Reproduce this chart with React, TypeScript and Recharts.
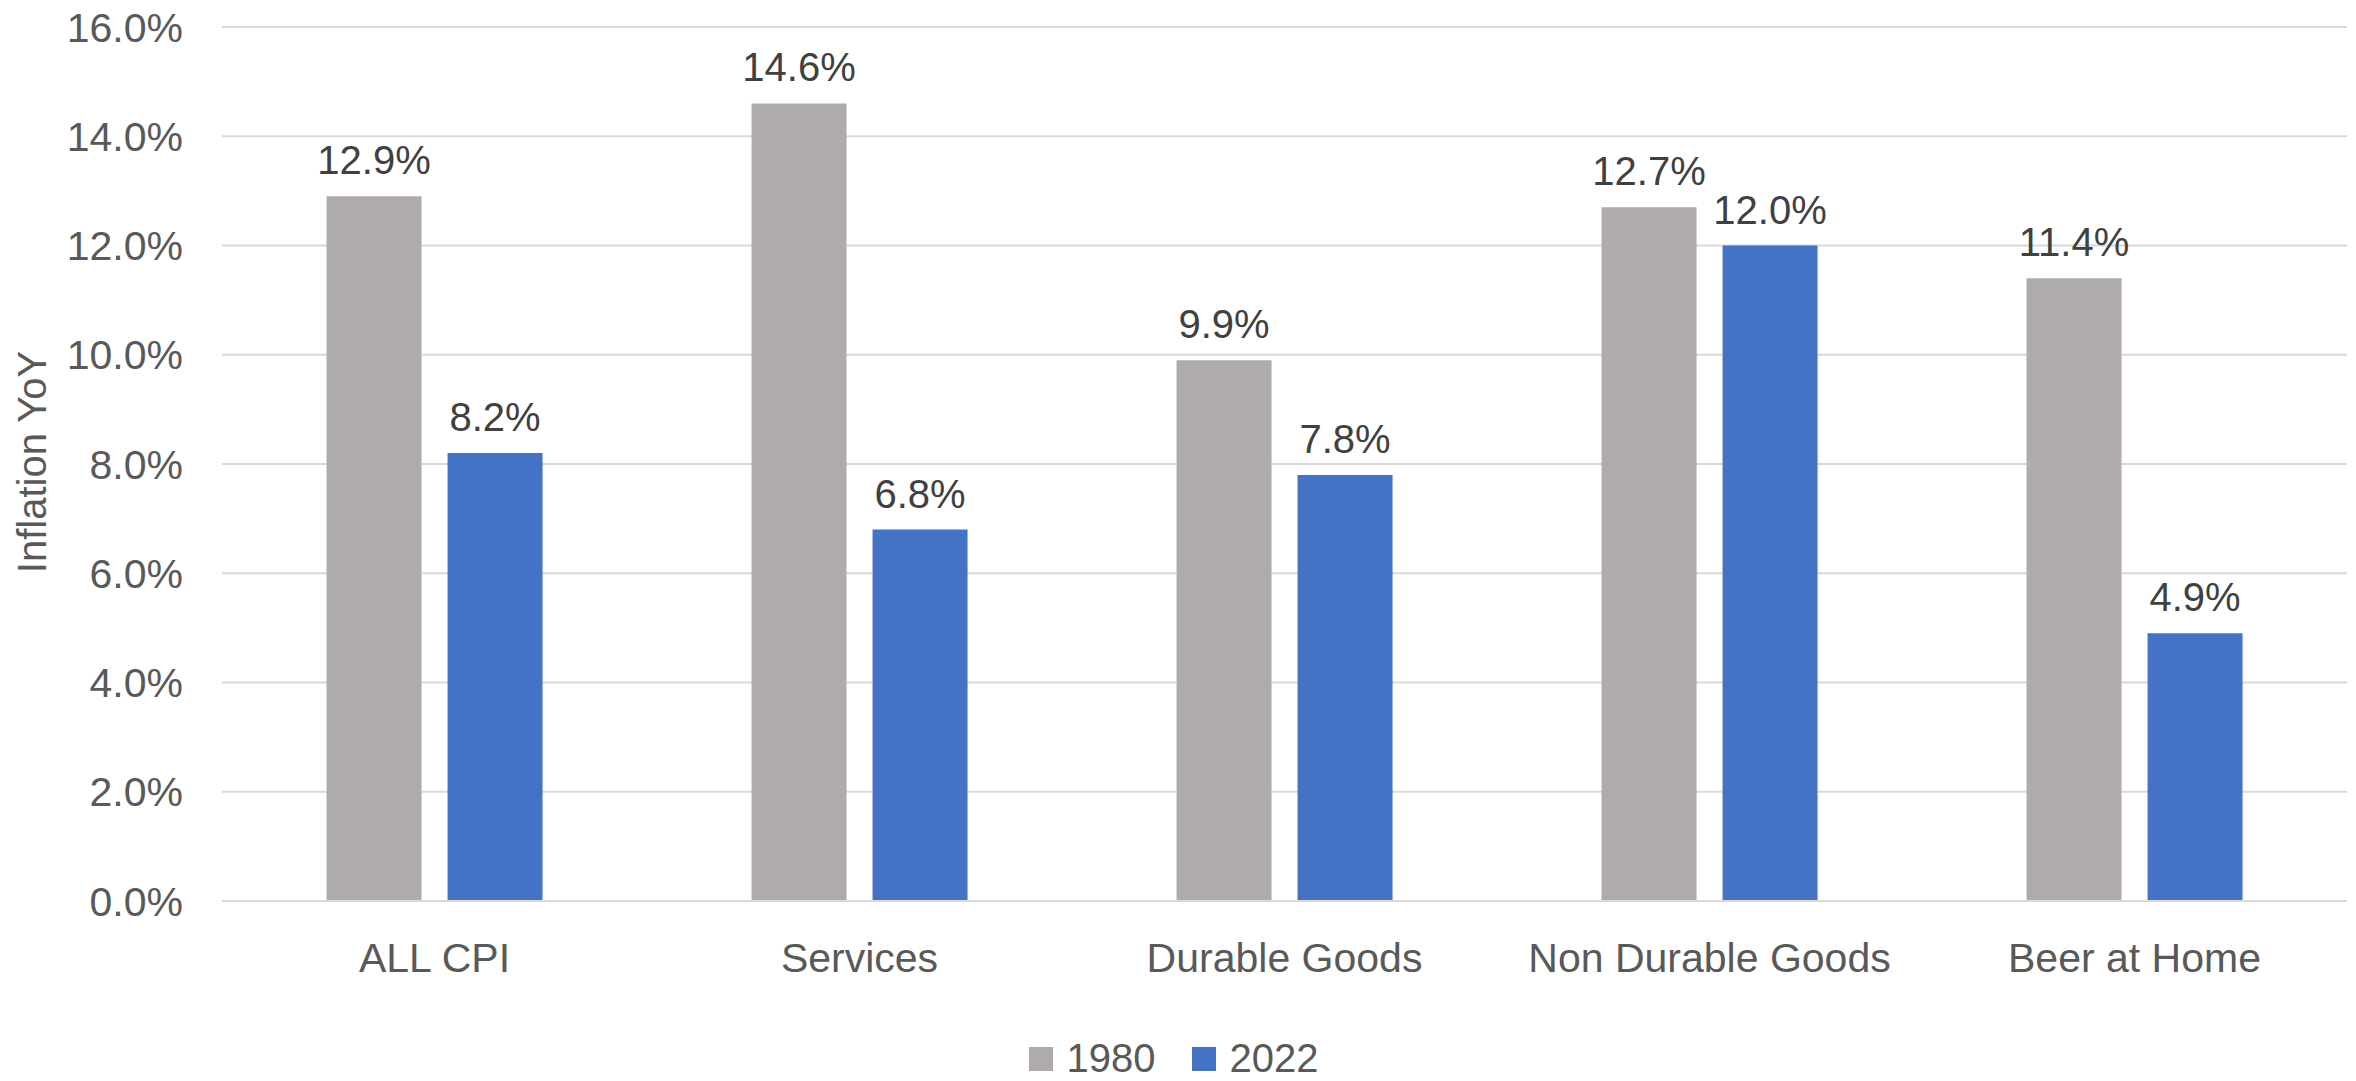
import { BarChart, Bar, XAxis, YAxis, CartesianGrid, Legend, LabelList, Label } from 'recharts'

const categories = ['ALL CPI', 'Services', 'Durable Goods', 'Non Durable Goods', 'Beer at Home']
const values1980 = [0.129, 0.146, 0.099, 0.127, 0.114]
const values2022 = [0.082, 0.068, 0.078, 0.12, 0.049]
const yTicks = [0, 0.02, 0.04, 0.06, 0.08, 0.1, 0.12, 0.14, 0.16]

const GRAY = '#AFABAB'
const BLUE = '#4472C4'
const FONT = '"Liberation Sans", Arial, sans-serif'

const data = categories.map((name, i) => ({
  name,
  y1980: values1980[i],
  y2022: values2022[i],
}))

const pct = (v: number) => `${(v * 100).toFixed(1)}%`

function LegendContent() {
  const items = [
    { label: '1980', color: GRAY },
    { label: '2022', color: BLUE },
  ]
  return (
    <div style={{ display: 'flex', justifyContent: 'center', alignItems: 'center', fontFamily: FONT, fontSize: 40, color: '#595959' }}>
      {items.map((it, i) => (
        <div key={it.label} style={{ display: 'flex', alignItems: 'center', marginLeft: i === 0 ? 0 : 36 }}>
          <span style={{ width: 24, height: 24, background: it.color, display: 'inline-block', marginRight: 14 }} />
          <span>{it.label}</span>
        </div>
      ))}
    </div>
  )
}

// axis title, centred on the plot height
function YTitle(props: any) {
  const vb = props.viewBox || {}
  const cx = 32
  const cy = (vb.y ?? 0) + (vb.height ?? 0) / 2 - 2
  return (
    <text
      x={cx}
      y={cy}
      transform={`rotate(-90 ${cx} ${cy})`}
      textAnchor="middle"
      dominantBaseline="central"
      fill="#595959"
      fontSize={40}
      fontFamily={FONT}
    >
      Inflation YoY
    </text>
  )
}

export default function App() {
  return (
    <div style={{ position: 'absolute', left: 0, top: 0, width: 2356, height: 1081, background: '#fff' }}>
      <BarChart
        width={2356}
        height={1081}
        data={data}
        margin={{ top: 27, right: 9, left: 0, bottom: 5 }}
        barCategoryGap="24.6%"
        barGap={26}
      >
        <CartesianGrid vertical={false} stroke="#D9D9D9" strokeWidth={2} />
        <XAxis
          dataKey="name"
          axisLine={{ stroke: '#D9D9D9', strokeWidth: 2 }}
          tickLine={false}
          tickSize={0}
          tickMargin={42}
          height={135}
          interval={0}
          tick={{ fontSize: 41, fill: '#595959', fontFamily: FONT }}
        />
        <YAxis
          width={222}
          domain={[0, 0.16]}
          ticks={yTicks}
          tickFormatter={pct}
          axisLine={false}
          tickLine={false}
          tickSize={0}
          tickMargin={39}
          tick={{ fontSize: 41, fill: '#595959', fontFamily: FONT }}
        >
          <Label content={<YTitle />} />
        </YAxis>
        <Legend verticalAlign="bottom" height={40} content={<LegendContent />} />
        <Bar dataKey="y1980" name="1980" fill={GRAY} isAnimationActive={false}>
          <LabelList dataKey="y1980" position="top" offset={22} formatter={(v: any) => pct(Number(v))} fill="#404040" fontSize={40} fontFamily={FONT} />
        </Bar>
        <Bar dataKey="y2022" name="2022" fill={BLUE} isAnimationActive={false}>
          <LabelList dataKey="y2022" position="top" offset={22} formatter={(v: any) => pct(Number(v))} fill="#404040" fontSize={40} fontFamily={FONT} />
        </Bar>
      </BarChart>
    </div>
  )
}
